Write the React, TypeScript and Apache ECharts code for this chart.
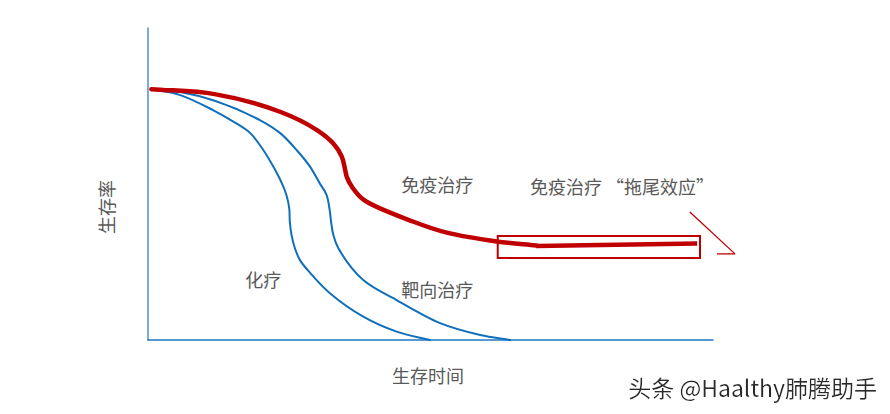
import React, { useEffect, useRef } from "react";
import * as echarts from "echarts";

// Survival curves: [time, survival]
const chemoCurve: [number, number][] = [
  [0.6, 80.4], [5.7, 78.5], [11.5, 73.7], [15.1, 70.0], [18.1, 66.3], [20.4, 60.9],
  [22.2, 55.5], [23.7, 50.2], [24.5, 46.5], [25.0, 42.2], [25.1, 37.9], [25.4, 33.7],
  [26.0, 29.4], [26.9, 25.6], [28.7, 21.5], [32.2, 15.0], [38.1, 7.5], [44.0, 2.7],
  [49.9, 0.0],
];
const targetedCurve: [number, number][] = [
  [0.6, 80.4], [5.9, 79.4], [11.8, 76.7], [19.8, 70.5], [23.4, 66.3], [26.3, 60.9],
  [28.7, 55.5], [30.4, 50.2], [31.6, 46.5], [32.2, 41.1], [32.4, 37.9], [32.8, 33.7],
  [33.7, 29.4], [38.1, 19.2], [44.0, 12.8], [51.7, 5.4], [58.8, 1.6], [64.1, 0.0],
];
const immuneCurve: [number, number][] = [
  [0.6, 80.4], [11.8, 78.8], [23.6, 73.0], [29.9, 67.3], [32.8, 63.0], [34.3, 58.8],
  [34.9, 54.5], [35.2, 52.2], [36.1, 49.1], [38.2, 44.9], [47.0, 37.9], [52.9, 34.4],
  [61.7, 31.6], [68.7, 30.3],
];
const immuneTail: [number, number][] = [
  [68.7, 30.1], [97.2, 30.9],
];
// tail highlight box: [x0, y0, x1, y1]
const tailBox = [61.9, 26.3, 97.7, 33.3];
// pointer strokes beside the box
const pointerLines: [number, number][][] = [
  [[95.9, 41.0], [103.9, 27.6]],
  [[100.7, 27.6], [103.9, 27.6]],
];
// annotations: text, [x, y], align
const labels: { text: string; at: [number, number]; align: string }[] = [
  { text: "免疫治疗", at: [51.2, 50.0], align: "center" },
  { text: "免疫治疗 “拖尾效应”", at: [67.6, 49.4], align: "left" },
  { text: "化疗", at: [20.4, 19.6], align: "center" },
  { text: "靶向治疗", at: [51.2, 16.3], align: "center" },
];
const xAxisName = "生存时间";
const yAxisName = "生存率";
const watermark = "头条 @Haalthy肺腾助手";

const BLUE = "#0f6fba";
const RED = "#c00000";
const GRAY = "#595959";
const FONT = "'Noto Sans CJK SC', 'Noto Sans', sans-serif";

// centripetal Catmull-Rom through pixel points -> SVG path data
function splinePath(pts: number[][]): string {
  const n = pts.length;
  if (n < 2) return "";
  const get = (i: number) => {
    if (i < 0) return [2 * pts[0][0] - pts[1][0], 2 * pts[0][1] - pts[1][1]];
    if (i >= n) return [2 * pts[n - 1][0] - pts[n - 2][0], 2 * pts[n - 1][1] - pts[n - 2][1]];
    return pts[i];
  };
  const dist = (a: number[], b: number[]) => Math.pow(Math.hypot(a[0] - b[0], a[1] - b[1]), 0.5) || 1e-6;
  let d = `M${pts[0][0]},${pts[0][1]}`;
  for (let i = 0; i < n - 1; i++) {
    const p0 = get(i - 1), p1 = get(i), p2 = get(i + 1), p3 = get(i + 2);
    const d1 = dist(p0, p1), d2 = dist(p1, p2), d3 = dist(p2, p3);
    const b1 = [0, 1].map((k) =>
      (d1 * d1 * p2[k] - d2 * d2 * p0[k] + (2 * d1 * d1 + 3 * d1 * d2 + d2 * d2) * p1[k]) / (3 * d1 * (d1 + d2)));
    const b2 = [0, 1].map((k) =>
      (d3 * d3 * p1[k] - d2 * d2 * p3[k] + (2 * d3 * d3 + 3 * d3 * d2 + d2 * d2) * p2[k]) / (3 * d3 * (d3 + d2)));
    d += ` C${b1[0]},${b1[1]} ${b2[0]},${b2[1]} ${p2[0]},${p2[1]}`;
  }
  return d;
}

function curveSeries(name: string, data: [number, number][], color: string, width: number) {
  return {
    name, type: "custom", data, encode: { x: 0, y: 1 }, clip: false,
    renderItem: (params: any, api: any) => {
      if (params.dataIndex !== 0) return null;
      const pts = data.map((p) => api.coord(p));
      return {
        type: "path",
        shape: { pathData: splinePath(pts) },
        style: { stroke: color, lineWidth: width, fill: "none", lineJoin: "round", lineCap: "round" },
      };
    },
  };
}

export default function App() {
  const ref = useRef<HTMLDivElement>(null);
  useEffect(() => {
    document.body.style.margin = "0";
    if (!ref.current) return;
    const chart = echarts.init(ref.current, undefined, { renderer: "svg" });
    chart.setOption({
      animation: false,
      backgroundColor: "#ffffff",
      grid: { left: 148, top: 28, right: 177, bottom: 74 },
      xAxis: {
        type: "value", min: 0, max: 100,
        axisLine: { show: true, lineStyle: { color: "#1f77c0", width: 1.5 } },
        axisTick: { show: false }, axisLabel: { show: false }, splitLine: { show: false },
      },
      yAxis: {
        type: "value", min: 0, max: 100,
        axisLine: { show: true, lineStyle: { color: "#4a90cf", width: 1.5 } },
        axisTick: { show: false }, axisLabel: { show: false }, splitLine: { show: false },
      },
      series: [
        curveSeries("化疗", chemoCurve, BLUE, 2),
        curveSeries("靶向治疗", targetedCurve, BLUE, 2),
        curveSeries("免疫治疗", immuneCurve, RED, 4.5),
        {
          name: "免疫治疗拖尾", type: "line", data: immuneTail, symbol: "none",
          lineStyle: { color: RED, width: 4.5 },
          markArea: {
            silent: true,
            itemStyle: { color: "rgba(0,0,0,0)", borderColor: RED, borderWidth: 2 },
            data: [[{ coord: [tailBox[0], tailBox[1]] }, { coord: [tailBox[2], tailBox[3]] }]],
          },
        },
      ],
    });

    const px = (p: [number, number]) => chart.convertToPixel({ gridIndex: 0 }, p) as number[];
    const graphics: any[] = [];
    pointerLines.forEach((seg) => {
      const a = px(seg[0]);
      const b = px(seg[1]);
      graphics.push({
        type: "line",
        shape: { x1: a[0], y1: a[1], x2: b[0], y2: b[1] },
        style: { stroke: RED, lineWidth: 1.3 },
      });
    });
    labels.forEach((l) => {
      const p = px(l.at);
      graphics.push({
        type: "text", x: p[0], y: p[1],
        style: {
          text: l.text, fill: GRAY, font: `18px ${FONT}`,
          textAlign: l.align, textVerticalAlign: "middle",
        },
      });
    });
    graphics.push({
      type: "text", x: 428, y: 375,
      style: { text: xAxisName, fill: GRAY, font: `18px ${FONT}`, textAlign: "center", textVerticalAlign: "middle" },
    });
    graphics.push({
      type: "text", x: 106, y: 207, rotation: Math.PI / 2,
      style: { text: yAxisName, fill: GRAY, font: `18px ${FONT}`, textAlign: "center", textVerticalAlign: "middle" },
    });
    graphics.push({
      type: "text", x: 877, y: 387,
      style: {
        text: watermark, fill: "#2a2a2a", font: `23px ${FONT}`,
        textAlign: "right", textVerticalAlign: "middle",
        textShadowColor: "rgba(255,255,255,0.9)", textShadowBlur: 2,
      },
    });
    chart.setOption({ graphic: graphics });
    return () => chart.dispose();
  }, []);
  return <div ref={ref} style={{ width: 890, height: 414 }} />;
}
